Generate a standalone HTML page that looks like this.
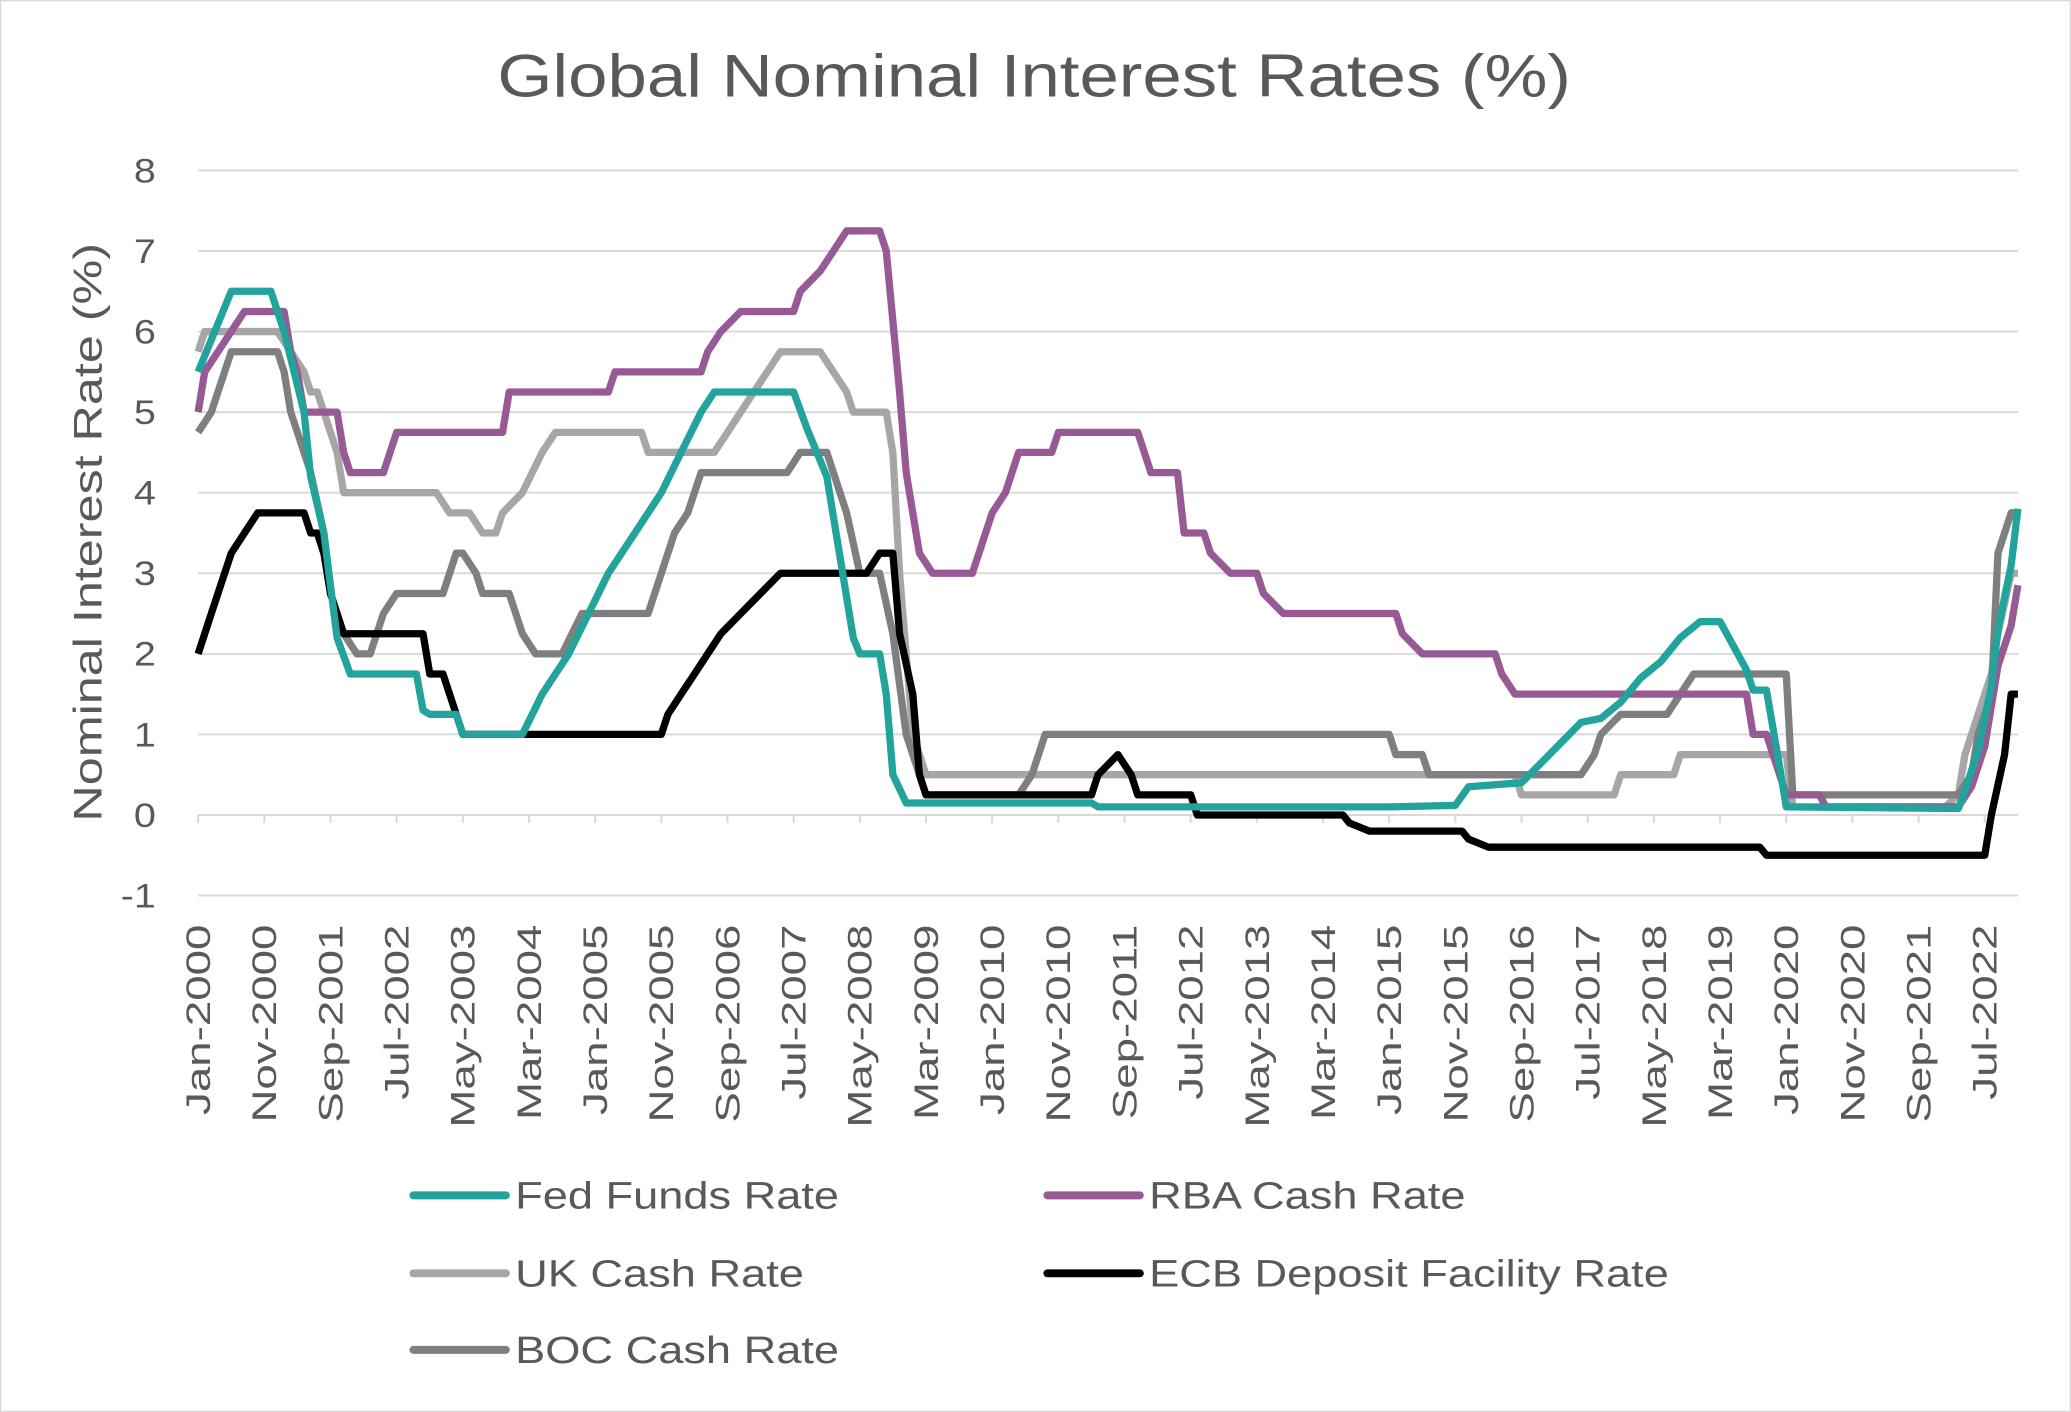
<!DOCTYPE html>
<html><head><meta charset="utf-8"><style>
html,body{margin:0;padding:0;background:#fff;}
svg{display:block;font-family:"Liberation Sans",sans-serif;}
</style></head><body>
<svg id="chart" width="2071" height="1412" viewBox="0 0 1568 1069" xmlns="http://www.w3.org/2000/svg">
<rect x="0.5" y="0.5" width="1567" height="1068" fill="#fff" stroke="#d9d9d9"/>
<text transform="translate(783,73) scale(1.165,1)" text-anchor="middle" font-size="46" fill="#595959">Global Nominal Interest Rates (%)</text>
<text transform="translate(77,403) rotate(-90) scale(1.27,1)" text-anchor="middle" font-size="30" fill="#595959">Nominal Interest Rate (%)</text>
<g id="grid"></g><g id="yticks"></g><g id="xticks"></g><g id="series"></g><g id="legend"></g>
</svg>
<script>
const yTicks=[8,7,6,5,4,3,2,1,0,-1];
const xLabels=["Jan-2000","Nov-2000","Sep-2001","Jul-2002","May-2003","Mar-2004","Jan-2005","Nov-2005","Sep-2006","Jul-2007","May-2008","Mar-2009","Jan-2010","Nov-2010","Sep-2011","Jul-2012","May-2013","Mar-2014","Jan-2015","Nov-2015","Sep-2016","Jul-2017","May-2018","Mar-2019","Jan-2020","Nov-2020","Sep-2021","Jul-2022"];
const fedM=[0,5,11,13,16,17,19,21,23,33,34,35,39,40,49,52,56,59,62,66,70,73,76,78,90,92,95,97,99,100,103,104,105,107,135,136,180,190,192,200,203,206,209,212,215,218,221,224,227,230,232,234,235,237,239,240,266,267,269,271,272,274,275];
const fedV=[5.5,6.5,6.5,6.0,5.0,4.2,3.5,2.2,1.75,1.75,1.3,1.25,1.25,1.0,1.0,1.5,2.0,2.5,3.0,3.5,4.0,4.5,5.0,5.25,5.25,4.8,4.2,3.2,2.2,2.0,2.0,1.5,0.5,0.15,0.15,0.1,0.1,0.12,0.35,0.4,0.65,0.9,1.15,1.2,1.4,1.7,1.9,2.2,2.4,2.4,2.1,1.8,1.55,1.55,0.6,0.1,0.08,0.3,0.8,1.6,2.3,3.1,3.8];
const rbaM=[0,1,3,5,7,13,14,15,16,21,22,23,28,30,46,47,62,63,76,77,79,82,90,91,94,96,98,103,104,106,107,109,111,117,119,120,122,124,129,130,142,144,148,149,152,153,156,160,161,164,181,182,185,196,197,199,234,235,237,238,239,240,245,246,266,268,270,271,272,274,275];
const rbaV=[5.0,5.5,5.75,6.0,6.25,6.25,5.75,5.5,5.0,5.0,4.5,4.25,4.25,4.75,4.75,5.25,5.25,5.5,5.5,5.75,6.0,6.25,6.25,6.5,6.75,7.0,7.25,7.25,7.0,5.25,4.25,3.25,3.0,3.0,3.5,3.75,4.0,4.5,4.5,4.75,4.75,4.25,4.25,3.5,3.5,3.25,3.0,3.0,2.75,2.5,2.5,2.25,2.0,2.0,1.75,1.5,1.5,1.0,1.0,0.75,0.5,0.25,0.25,0.1,0.1,0.35,0.85,1.35,1.85,2.35,2.85];
const ukM=[0,1,12,14,16,17,18,20,21,22,36,38,41,43,45,46,49,52,54,67,68,78,80,82,84,86,88,94,96,98,99,104,105,106,107,108,110,199,200,214,215,223,224,240,241,264,266,267,269,271,272,274,275];
const ukV=[5.75,6.0,6.0,5.75,5.5,5.25,5.25,4.75,4.5,4.0,4.0,3.75,3.75,3.5,3.5,3.75,4.0,4.5,4.75,4.75,4.5,4.5,4.75,5.0,5.25,5.5,5.75,5.75,5.5,5.25,5.0,5.0,4.5,3.0,2.0,1.0,0.5,0.5,0.25,0.25,0.5,0.5,0.75,0.75,0.1,0.1,0.25,0.75,1.25,1.75,2.25,3.0,3.0];
const ecbM=[0,2,3,5,7,9,16,17,18,19,20,22,34,35,37,38,40,70,71,73,75,77,79,82,85,88,101,103,105,106,108,109,110,135,136,139,141,142,150,151,173,174,177,191,192,195,236,237,270,271,273,274,275];
const ecbV=[2.0,2.5,2.75,3.25,3.5,3.75,3.75,3.5,3.5,3.25,2.75,2.25,2.25,1.75,1.75,1.5,1.0,1.0,1.25,1.5,1.75,2.0,2.25,2.5,2.75,3.0,3.0,3.25,3.25,2.25,1.5,0.5,0.25,0.25,0.5,0.75,0.5,0.25,0.25,0.0,0.0,-0.1,-0.2,-0.2,-0.3,-0.4,-0.4,-0.5,-0.5,0.0,0.75,1.5,1.5];
const bocM=[0,2,3,5,12,13,14,16,17,19,20,22,24,26,28,30,37,39,40,42,43,47,48,49,51,55,58,68,70,72,74,76,89,91,95,97,98,100,103,105,107,109,110,124,126,127,128,180,181,185,186,209,211,212,215,222,224,226,240,241,266,268,269,271,272,274,275];
const bocV=[4.75,5.0,5.25,5.75,5.75,5.5,5.0,4.5,4.25,3.5,2.75,2.25,2.0,2.0,2.5,2.75,2.75,3.25,3.25,3.0,2.75,2.75,2.5,2.25,2.0,2.0,2.5,2.5,3.0,3.5,3.75,4.25,4.25,4.5,4.5,4.0,3.75,3.0,3.0,2.25,1.0,0.5,0.25,0.25,0.5,0.75,1.0,1.0,0.75,0.75,0.5,0.5,0.75,1.0,1.25,1.25,1.5,1.75,1.75,0.25,0.25,0.5,1.0,1.5,3.25,3.75,3.75];

const NS="http://www.w3.org/2000/svg";
const X0=150,XPM=5.01,Y0=617,YPU=61,XR=1528;
function xs(m){return X0+m*XPM;}
function ys(v){return Y0-v*YPU;}
function mk(tag,attrs,parent){const e=document.createElementNS(NS,tag);for(const k in attrs)e.setAttribute(k,attrs[k]);parent.appendChild(e);return e;}
const grid=document.getElementById('grid'),yt=document.getElementById('yticks'),xt=document.getElementById('xticks'),ser=document.getElementById('series'),leg=document.getElementById('legend');
yTicks.forEach(v=>{
  if(v!==0){const l=mk('line',{x1:X0,x2:XR,y1:ys(v),y2:ys(v),stroke:'#d9d9d9','stroke-width':1.5},grid);
  
  }
  const t=mk('text',{transform:`translate(118,${ys(v)+9}) scale(1.15,1)`,'text-anchor':'end','font-size':26,fill:'#595959'},yt);
  t.textContent=v;
  
  
});
const ax=mk('line',{x1:X0,x2:XR,y1:Y0,y2:Y0,stroke:'#d9d9d9','stroke-width':1.5},grid);


xLabels.forEach((s,i)=>{
  const x=xs(i*10);
  const tk=mk('line',{x1:x,x2:x,y1:Y0,y2:Y0+6,stroke:'#d9d9d9','stroke-width':1.5},grid);
  
  
  const t=mk('text',{transform:`translate(${x+9},700) rotate(-90) scale(1.33,1)`,'text-anchor':'end','font-size':26,fill:'#595959'},xt);
  t.textContent=s;
  
  
});
const S=[
 {n:'UK Cash Rate',m:ukM,v:ukV,c:'#a6a6a6',id:'uk-cash-rate-line'},
 {n:'BOC Cash Rate',m:bocM,v:bocV,c:'#7f7f7f',id:'boc-cash-rate-line'},
 {n:'ECB Deposit Facility Rate',m:ecbM,v:ecbV,c:'#000000',id:'ecb-deposit-rate-line'},
 {n:'RBA Cash Rate',m:rbaM,v:rbaV,c:'#985a94',id:'rba-cash-rate-line'},
 {n:'Fed Funds Rate',m:fedM,v:fedV,c:'#22a39c',id:'fed-funds-rate-line'}];
S.forEach(s=>{
  const pts=s.m.map((m,i)=>xs(m).toFixed(1)+','+ys(s.v[i]).toFixed(1)).join(' ');
  const p=mk('polyline',{points:pts,fill:'none',stroke:s.c,'stroke-width':5.5,'stroke-linejoin':'round'},ser);
  
  
});
const L=[
 {n:'Fed Funds Rate',c:'#22a39c',x:313,y:905},
 {n:'RBA Cash Rate',c:'#985a94',x:793,y:905},
 {n:'UK Cash Rate',c:'#a6a6a6',x:313,y:964},
 {n:'ECB Deposit Facility Rate',c:'#000000',x:793,y:964},
 {n:'BOC Cash Rate',c:'#7f7f7f',x:313,y:1022}];
L.forEach(l=>{
  const g=mk('g',{},leg);
  
  
  mk('line',{x1:l.x,x2:l.x+70,y1:l.y,y2:l.y,stroke:l.c,'stroke-width':6,'stroke-linecap':'round'},g);
  const t=mk('text',{transform:`translate(${l.x+77},${l.y+10}) scale(1.18,1)`,'font-size':29,fill:'#595959'},g);
  t.textContent=l.n;
});
</script>
</body></html>
